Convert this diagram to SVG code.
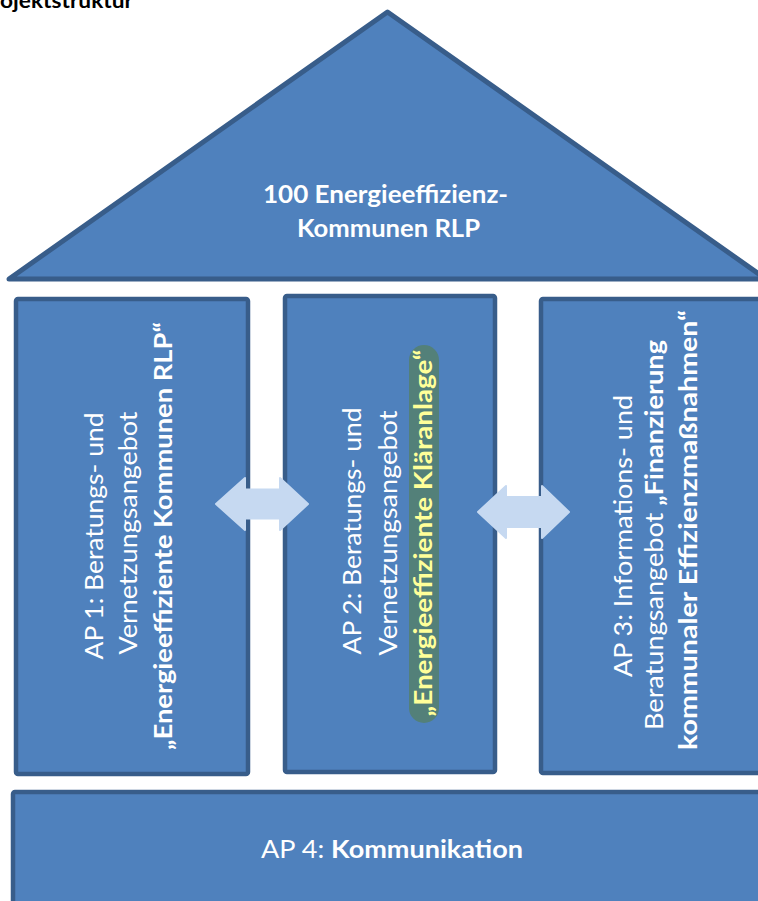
<svg xmlns="http://www.w3.org/2000/svg" width="758" height="901" viewBox="0 0 758 901">
<style>
.shape{fill:#4f81bd;stroke:#385d8a;stroke-width:4.5;stroke-linejoin:round}
.roof{stroke-width:5}
.arr{fill:#c6d9f1;stroke:#c6d9f1;stroke-width:2;stroke-linejoin:round}
.t{font-family:Lato,"Liberation Sans",sans-serif;font-size:25px;fill:#ffffff;text-anchor:middle}
.b{font-weight:bold}
.title{font-family:Lato,"Liberation Sans",sans-serif;font-size:20px;font-weight:bold;fill:#000000}
</style>
<rect width="758" height="901" fill="#ffffff"/>
<text class="title" x="0" y="8" textLength="133" lengthAdjust="spacingAndGlyphs">ojektstruktur</text>
<g id="roof">
<polygon class="shape roof" points="9,279 387.5,12 766,279"/>
<text class="t b" x="385.5" y="203" textLength="245" lengthAdjust="spacingAndGlyphs">100 Energieeffizienz-</text>
<text class="t b" x="388.5" y="237" textLength="183" lengthAdjust="spacingAndGlyphs">Kommunen RLP</text>
</g>
<g id="ap1">
<rect class="shape" x="16" y="299" width="232" height="475" rx="2"/>
<text class="t" transform="translate(103,536) rotate(-90)" textLength="247" lengthAdjust="spacingAndGlyphs">AP 1: Beratungs- und</text>
<text class="t" transform="translate(137,533) rotate(-90)" textLength="243" lengthAdjust="spacingAndGlyphs">Vernetzungsangebot</text>
<text class="t b" transform="translate(172,536) rotate(-90)" textLength="428" lengthAdjust="spacingAndGlyphs">„Energieeffiziente Kommunen RLP“</text>
</g>
<g id="ap2">
<rect class="shape" x="285" y="296" width="210" height="476" rx="2"/>
<rect x="409" y="345" width="30" height="378" rx="15" fill="#538079"/>
<text class="t" transform="translate(361,531) rotate(-90)" textLength="247" lengthAdjust="spacingAndGlyphs">AP 2: Beratungs- und</text>
<text class="t" transform="translate(397,533) rotate(-90)" textLength="245" lengthAdjust="spacingAndGlyphs">Vernetzungsangebot</text>
<text class="t b" transform="translate(432,533) rotate(-90)" textLength="367" lengthAdjust="spacingAndGlyphs" style="fill:#ffff99">„Energieeffiziente Kläranlage“</text>
</g>
<g id="ap3">
<rect class="shape" x="541" y="299" width="230" height="474" rx="2"/>
<text class="t" transform="translate(632,536) rotate(-90)" textLength="282" lengthAdjust="spacingAndGlyphs">AP 3: Informations- und</text>
<text class="t" transform="translate(663,535) rotate(-90)" textLength="390" lengthAdjust="spacingAndGlyphs">Beratungsangebot <tspan class="b">„Finanzierung</tspan></text>
<text class="t b" transform="translate(697,530) rotate(-90)" textLength="440" lengthAdjust="spacingAndGlyphs">kommunaler Effizienzmaßnahmen“</text>
</g>
<g id="ap4">
<rect class="shape" x="13" y="792" width="760" height="120" rx="2"/>
<text class="t" x="392" y="858" textLength="262" lengthAdjust="spacingAndGlyphs">AP 4: <tspan class="b">Kommunikation</tspan></text>
</g>
<g id="connectors">
<polygon class="arr" points="216,504 245,478 245,489.5 280,489.5 280,478 308,504 280,530 280,518.5 245,518.5 245,530"/>
<polygon class="arr" points="478,512 506,486 506,497 542,497 542,486 569,512 542,538 542,527 506,527 506,538"/>
</g>
</svg>
